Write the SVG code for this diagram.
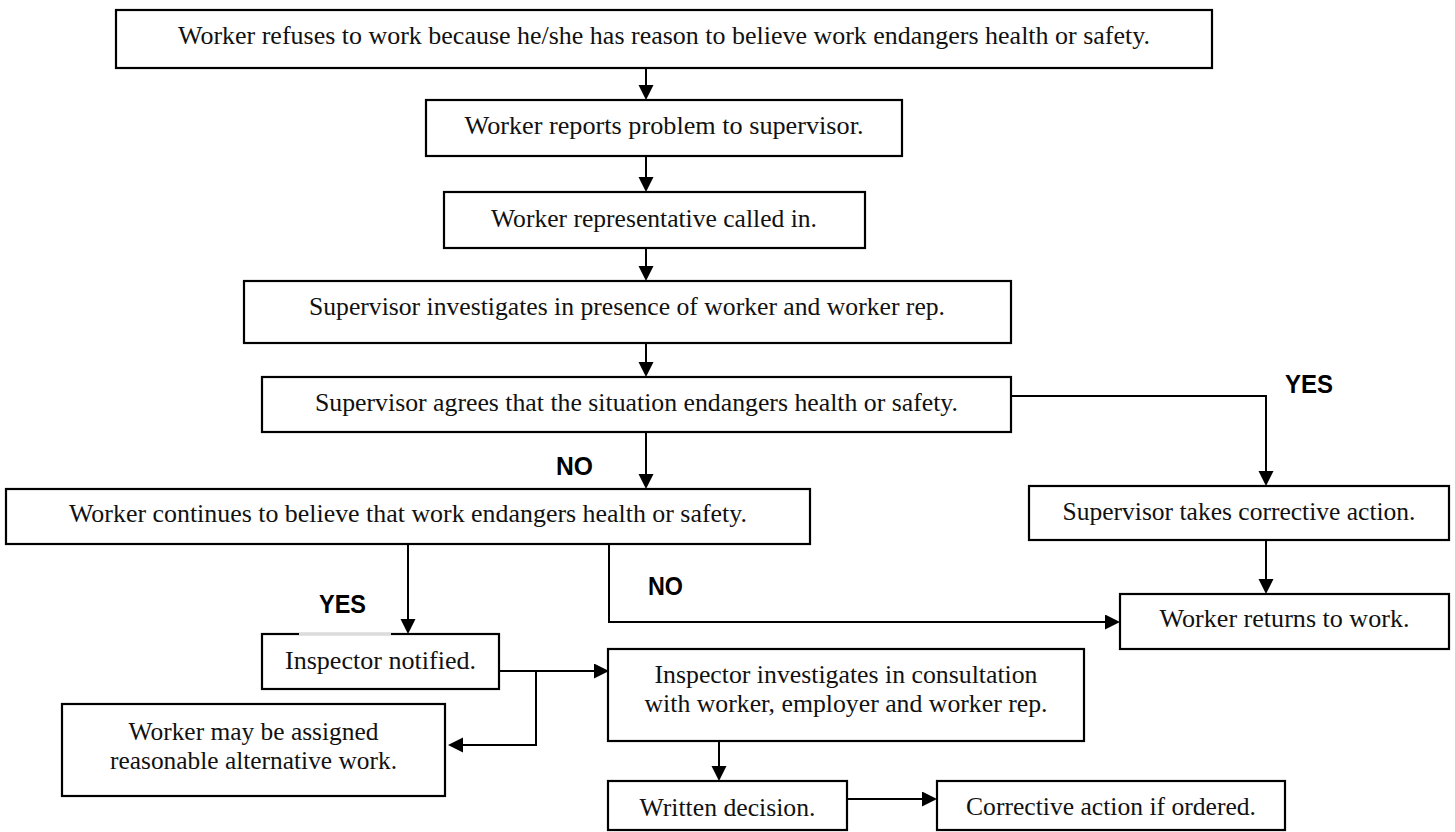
<svg xmlns="http://www.w3.org/2000/svg" width="1455" height="832" viewBox="0 0 1455 832">
<style>
.box{fill:#fff;stroke:#000;stroke-width:2.2}
.t{font-family:"Liberation Serif","Times New Roman",serif;font-size:26px;fill:#111;text-anchor:middle}
.lbl{font-family:"Liberation Sans",Arial,sans-serif;font-size:25px;font-weight:bold;fill:#000}
.c{fill:none;stroke:#000;stroke-width:2}
</style>
<defs>
<marker id="ah" markerUnits="userSpaceOnUse" markerWidth="16" markerHeight="16" refX="12" refY="7.5" orient="auto">
<path d="M0,0 L15,7.5 L0,15 z" fill="#000"/>
</marker>
</defs>
<rect width="1455" height="832" fill="#fff"/>
<g id="connectors">
<path class="c" d="M646,68 V97" marker-end="url(#ah)"/>
<path class="c" d="M646,156 V189" marker-end="url(#ah)"/>
<path class="c" d="M646,248 V278" marker-end="url(#ah)"/>
<path class="c" d="M646,343 V374" marker-end="url(#ah)"/>
<path class="c" d="M646,432 V486" marker-end="url(#ah)"/>
<path class="c" d="M1011,396 H1266 V483" marker-end="url(#ah)"/>
<path class="c" d="M1266,540 V591" marker-end="url(#ah)"/>
<path class="c" d="M609,544 V622 H1117" marker-end="url(#ah)"/>
<path class="c" d="M408,544 V631" marker-end="url(#ah)"/>
<path class="c" d="M500,671 H606" marker-end="url(#ah)"/>
<path class="c" d="M536,671 V745 H451" marker-end="url(#ah)"/>
<path class="c" d="M719,741 V778" marker-end="url(#ah)"/>
<path class="c" d="M847,799 H934" marker-end="url(#ah)"/>
</g>
<g id="n1"><rect class="box" x="116" y="10" width="1096" height="58"/><text class="t" x="664" y="44" textLength="972" lengthAdjust="spacingAndGlyphs">Worker refuses to work because he/she has reason to believe work endangers health or safety.</text></g>
<g id="n2"><rect class="box" x="426" y="100" width="476" height="56"/><text class="t" x="664" y="134" textLength="399" lengthAdjust="spacingAndGlyphs">Worker reports problem to supervisor.</text></g>
<g id="n3"><rect class="box" x="444" y="192" width="421" height="56"/><text class="t" x="654" y="227" textLength="326" lengthAdjust="spacingAndGlyphs">Worker representative called in.</text></g>
<g id="n4"><rect class="box" x="244" y="281" width="767" height="62"/><text class="t" x="627" y="315" textLength="636" lengthAdjust="spacingAndGlyphs">Supervisor investigates in presence of worker and worker rep.</text></g>
<g id="n5"><rect class="box" x="262" y="377" width="749" height="55"/><text class="t" x="636.5" y="411" textLength="643" lengthAdjust="spacingAndGlyphs">Supervisor agrees that the situation endangers health or safety.</text></g>
<g id="n6"><rect class="box" x="6" y="489" width="804" height="55"/><text class="t" x="408" y="522" textLength="678" lengthAdjust="spacingAndGlyphs">Worker continues to believe that work endangers health or safety.</text></g>
<g id="n7"><rect class="box" x="1029" y="486" width="420" height="54"/><text class="t" x="1239" y="520" textLength="353" lengthAdjust="spacingAndGlyphs">Supervisor takes corrective action.</text></g>
<g id="n8"><rect class="box" x="1120" y="594" width="329" height="55"/><text class="t" x="1284.5" y="627" textLength="250" lengthAdjust="spacingAndGlyphs">Worker returns to work.</text></g>
<g id="n9"><rect class="box" x="262" y="634" width="237" height="55"/><line x1="299" y1="634" x2="391" y2="634" stroke="#dcdcdc" stroke-width="2.6"/><text class="t" x="380.5" y="669" textLength="191" lengthAdjust="spacingAndGlyphs">Inspector notified.</text></g>
<g id="n10"><rect class="box" x="62" y="704" width="383" height="92"/><text class="t" x="253.5" y="740" textLength="250" lengthAdjust="spacingAndGlyphs">Worker may be assigned</text><text class="t" x="253.5" y="769" textLength="287" lengthAdjust="spacingAndGlyphs">reasonable alternative work.</text></g>
<g id="n11"><rect class="box" x="608" y="649" width="476" height="92"/><text class="t" x="846" y="683" textLength="383" lengthAdjust="spacingAndGlyphs">Inspector investigates in consultation</text><text class="t" x="846" y="712" textLength="403" lengthAdjust="spacingAndGlyphs">with worker, employer and worker rep.</text></g>
<g id="n12"><rect class="box" x="608" y="781" width="239" height="49"/><text class="t" x="727.5" y="816" textLength="176" lengthAdjust="spacingAndGlyphs">Written decision.</text></g>
<g id="n13"><rect class="box" x="937" y="781" width="348" height="49"/><text class="t" x="1111" y="815" textLength="290" lengthAdjust="spacingAndGlyphs">Corrective action if ordered.</text></g>
<g id="labels">
<text class="lbl" x="1285" y="393" textLength="48" lengthAdjust="spacingAndGlyphs">YES</text>
<text class="lbl" x="556" y="475" textLength="37" lengthAdjust="spacingAndGlyphs">NO</text>
<text class="lbl" x="319" y="613" textLength="47" lengthAdjust="spacingAndGlyphs">YES</text>
<text class="lbl" x="648" y="595" textLength="35" lengthAdjust="spacingAndGlyphs">NO</text>
</g>
</svg>
